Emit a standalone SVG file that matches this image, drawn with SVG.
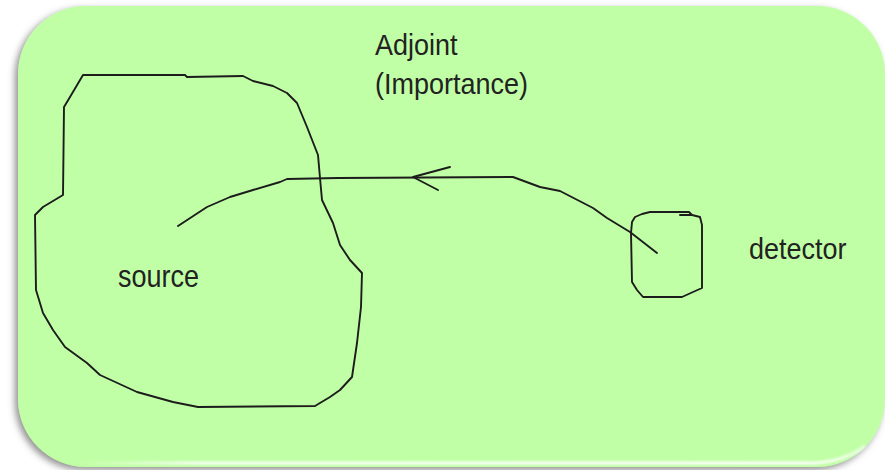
<svg xmlns="http://www.w3.org/2000/svg" width="885" height="470" viewBox="0 0 885 470">
  <defs>
    <filter id="panelShadow" x="-5%" y="-5%" width="110%" height="115%">
      <feDropShadow dx="-3" dy="3" stdDeviation="3.5" flood-color="#6a6a6a" flood-opacity="0.75"/>
    </filter>
    <filter id="soft" x="-5%" y="-50%" width="110%" height="200%">
      <feGaussianBlur stdDeviation="1.2"/>
    </filter>
    <linearGradient id="hlTop" x1="0" y1="0" x2="1" y2="0">
      <stop offset="0" stop-color="#ffffff" stop-opacity="0"/>
      <stop offset="0.12" stop-color="#ffffff" stop-opacity="0.9"/>
      <stop offset="0.9" stop-color="#ffffff" stop-opacity="0.95"/>
      <stop offset="1" stop-color="#ffffff" stop-opacity="0"/>
    </linearGradient>
    <linearGradient id="hlBottom" x1="0" y1="0" x2="1" y2="0">
      <stop offset="0" stop-color="#ffffff" stop-opacity="0"/>
      <stop offset="0.15" stop-color="#ffffff" stop-opacity="0.9"/>
      <stop offset="0.92" stop-color="#ffffff" stop-opacity="1"/>
      <stop offset="1" stop-color="#ffffff" stop-opacity="0.6"/>
    </linearGradient>
    <style>
      .sketch { fill: none; stroke: #1c1c1c; stroke-width: 1.9; stroke-linejoin: round; stroke-linecap: round; }
      .label { font-family: "Liberation Sans", Arial, sans-serif; fill: #222222; }
    </style>
  </defs>

  <!-- rounded green panel -->
  <g id="panel">
    <rect x="18" y="6" width="867" height="461" rx="68" ry="68" fill="#c1ffa6" filter="url(#panelShadow)"/>
    <path d="M70 11 H818" stroke="url(#hlTop)" stroke-width="3" fill="none" filter="url(#soft)"/>
    <path d="M80 463 H815 Q845 461 865 446" stroke="url(#hlBottom)" stroke-width="3" fill="none" filter="url(#soft)"/>
  </g>

  <!-- source region -->
  <g id="source">
    <path class="sketch" d="M83 75 L185 75 L187 77 L243 76 L253 81 L273 86 L287 93 L297 103 L307 127 L318 155 L320 178 L322 200 L333 223 L340 245 L350 260 L362 273 L361 307 L357 343 L352 377 L340 390 L330 397 L315 406 L198 407 L173 402 L137 392 L100 375 L87 363 L65 347 L53 330 L43 313 L36 290 L35 215 L43 207 L63 195 L64 107 L70 97 Z"/>
    <text class="label" x="118" y="287" font-size="27" transform="translate(0 287) scale(1 1.15) translate(0 -287)">source</text>
  </g>

  <!-- detector region -->
  <g id="detector">
    <path class="sketch" d="M680 215 L692 215 L689 212 L650 212 L642 214 L635 217 L632 222 L631 233 L632 282 L637 290 L643 297 L682 297 L693 292 L702 288 L702 225 L700 217 L692 215"/>
    <text class="label" x="749" y="259" font-size="27" transform="translate(0 259) scale(1 1.1) translate(0 -259)">detector</text>
  </g>

  <!-- adjoint label -->
  <g id="adjoint-label">
    <text class="label" x="375" y="55" font-size="27" transform="translate(0 55) scale(1 1.1) translate(0 -55)">Adjoint</text>
    <text class="label" x="375" y="94" font-size="27" transform="translate(0 94) scale(1 1.1) translate(0 -94)">(Importance)</text>
  </g>

  <!-- importance path from detector back toward the source -->
  <g id="connectors">
    <path class="sketch" d="M657 253 L630 232 L607 218 L593 208 L560 191 L540 187 L513 177 L338 178 L287 179 L280 182 L253 190 L230 197 L207 207 L178 226"/>
    <path class="sketch" d="M450 167 L413 177 L438 190"/>
  </g>
</svg>
